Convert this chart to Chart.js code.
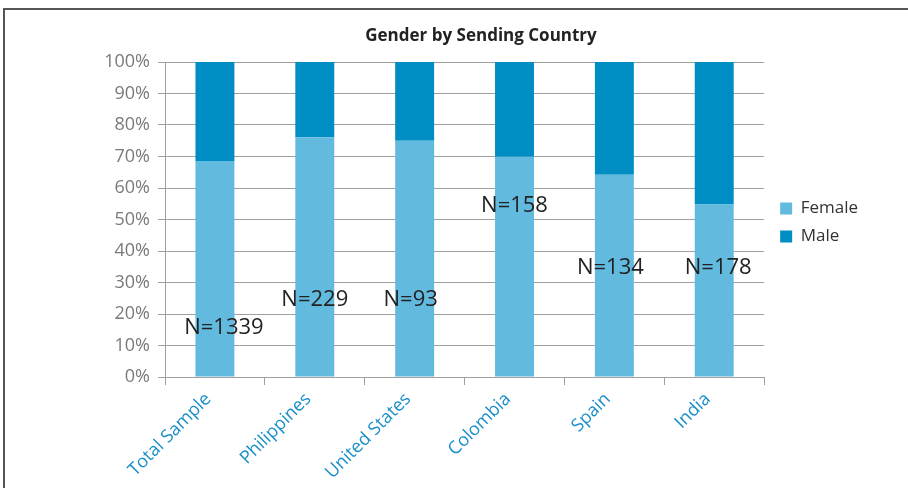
<!DOCTYPE html>
<html>
<head>
<meta charset="utf-8">
<script src="https://cdn.jsdelivr.net/npm/chart.js@4"></script>
<style>
html,body{margin:0;padding:0;background:#fff;}
#wrap{width:908px;height:488px;position:relative;}
</style>
</head>
<body>
<div id="wrap"><canvas id="c" width="908" height="488"></canvas></div>
<script>
const categories = ['Total Sample', 'Philippines', 'United States', 'Colombia', 'Spain', 'India'];
const femaleValues = [68.6, 76.1, 75.0, 69.9, 64.2, 54.8];
const maleValues = [31.4, 23.9, 25.0, 30.1, 35.8, 45.2];
const sampleSizes = [1339, 229, 93, 158, 134, 178];
const yTickValues = [0, 10, 20, 30, 40, 50, 60, 70, 80, 90, 100];

const frame = {
  id: 'frame',
  beforeDraw(chart) {
    const ctx = chart.ctx;
    ctx.save();
    ctx.fillStyle = '#fff';
    ctx.fillRect(0, 0, chart.width, chart.height);
    ctx.strokeStyle = '#555555';
    ctx.lineWidth = 2;
    ctx.strokeRect(4, 9, chart.width + 20, chart.height + 20);
    ctx.restore();
  }
};

const nLabels = {
  id: 'nLabels',
  afterDatasetsDraw(chart, args, opts) {
    const ctx = chart.ctx;
    const xs = chart.scales.x, ys = chart.scales.y;
    ctx.save();
    ctx.font = '22px "Open Sans"';
    ctx.fillStyle = '#222';
    ctx.textAlign = 'center';
    ctx.textBaseline = 'middle';
    sampleSizes.forEach((n, i) => {
      const x = xs.getPixelForValue(i) + opts.dx[i];
      const y = ys.getPixelForValue(opts.at[i]);
      ctx.fillText('N=' + n, x, y);
    });
    ctx.restore();
  }
};

new Chart(document.getElementById('c'), {
  type: 'bar',
  data: {
    labels: categories,
    datasets: [
      { label: 'Female', data: femaleValues, backgroundColor: '#62badf', categoryPercentage: 1, barPercentage: 0.39 },
      { label: 'Male', data: maleValues, backgroundColor: '#008dc4', categoryPercentage: 1, barPercentage: 0.39 }
    ]
  },
  options: {
    responsive: false,
    animation: false,
    layout: { padding: { left: 94, right: 40, top: 0, bottom: 0 } },
    plugins: {
      title: {
        display: true,
        text: 'Gender by Sending Country',
        color: '#222',
        font: { family: '"Open Sans"', size: 17, weight: 'bold' },
        padding: { top: 26, bottom: 15.6 }
      },
      legend: {
        position: 'right',
        fullSize: false,
        title: { display: true, text: ' ', font: { size: 5 }, padding: 0 },
        labels: {
          boxWidth: 12, boxHeight: 12, padding: 11,
          color: '#333',
          font: { family: '"Open Sans"', size: 17 }
        }
      },
      tooltip: { enabled: false },
      nLabels: {
        at: [15.6, 24.4, 24.4, 54.3, 34.6, 34.6],
        dx: [9, 0, -4, 0, -4, 4]
      }
    },
    scales: {
      x: {
        stacked: true,
        grid: { drawOnChartArea: false, drawTicks: true, tickLength: 8, color: '#a0a0a0' },
        border: { color: '#a0a0a0' },
        ticks: {
          color: '#1a8fc8', maxRotation: 45, minRotation: 45, padding: -3,
          font: { family: '"Open Sans"', size: 18 },
          callback: (v, i) => categories[i] + '  '
        },
        afterFit(s) { s.height = 111; }
      },
      y: {
        stacked: true, min: 0, max: 100,
        afterBuildTicks(s) { s.ticks = yTickValues.map(v => ({ value: v })); },
        grid: { color: '#a0a0a0', tickLength: 7 },
        border: { color: '#a0a0a0' },
        ticks: {
          color: '#7a7a7a', padding: 8,
          font: { family: '"Open Sans"', size: 18 },
          callback: v => v + '%'
        },
        afterFit(s) { s.width = 71; }
      },
      gap: {
        type: 'linear', position: 'right', display: true,
        grid: { display: false }, border: { display: false }, ticks: { display: false },
        afterFit(s) { s.width = 5; }
      }
    }
  },
  plugins: [frame, nLabels]
});
</script>
</body>
</html>
